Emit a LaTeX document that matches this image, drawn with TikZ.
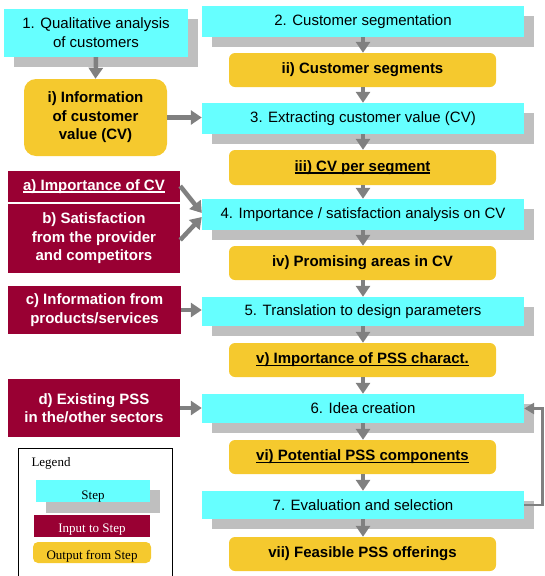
\documentclass[tikz,border=0pt]{standalone}
\usepackage{fontspec}
\setmainfont{Liberation Sans}
\newfontfamily\legfont{Liberation Serif}
\newcommand{\ulin}[1]{\setbox0\hbox{#1}\rlap{\copy0}\rule[-2.2pt]{\wd0}{1.2pt}}
\usetikzlibrary{arrows.meta,shadows}
\definecolor{stepcyan}{HTML}{66FFFF}
\definecolor{inred}{HTML}{990033}
\definecolor{outyel}{HTML}{F5C92E}
\definecolor{shadowgray}{HTML}{BFBFBF}
\definecolor{arrgray}{HTML}{808080}
\tikzset{
  stepbox/.style={fill=stepcyan, inner sep=0pt, align=center, text=black,
    font=\fontsize{15}{19}\selectfont,
    general shadow={fill=shadowgray, shadow xshift=10pt, shadow yshift=-10pt}},
  inbox/.style={fill=inred, text=white, inner sep=0pt, align=center,
    font=\fontsize{15}{18.5}\selectfont\bfseries},
  outbox/.style={fill=outyel, rounded corners=6pt, inner sep=0pt, align=center, text=black,
    font=\fontsize{15}{18.5}\selectfont\bfseries},
  flow/.style={draw=arrgray, line width=4.5pt, -{Triangle[length=11pt,width=14pt]}},
  feedback/.style={draw=arrgray, line width=2.5pt, -{Triangle[length=10pt,width=11pt]}},
  legtext/.style={font=\legfont\fontsize{13}{15}\selectfont},
}
\begin{document}
\begin{tikzpicture}[x=1pt,y=-1pt]
\useasboundingbox (0,0) rectangle (544,576);

% steps
\node[stepbox, minimum width=184pt, minimum height=48pt] (s1) at (96,33) {1. Qualitative analysis\\of customers};
\node[stepbox, minimum width=322pt, minimum height=31pt] (s2) at (363,21.5) {2. Customer segmentation};
\node[stepbox, minimum width=322pt, minimum height=31pt] (s3) at (363,118.5) {3. Extracting customer value (CV)};
\node[stepbox, minimum width=322pt, minimum height=31pt] (s4) at (363,214.5) {4. Importance / satisfaction analysis on CV};
\node[stepbox, minimum width=322pt, minimum height=29pt] (s5) at (363,311.5) {5. Translation to design parameters};
\node[stepbox, minimum width=322pt, minimum height=29pt] (s6) at (363,408.5) {6. Idea creation};
\node[stepbox, minimum width=322pt, minimum height=28pt] (s7) at (363,505) {7. Evaluation and selection};

% outputs
\node[outbox, rounded corners=12pt, minimum width=143pt, minimum height=77pt] (oi) at (95.5,117.5) {i) Information\\of customer\\value (CV)};
\node[outbox, minimum width=267pt, minimum height=34pt] (o2) at (362.5,70) {ii) Customer segments};
\node[outbox, minimum width=267pt, minimum height=35pt] (o3) at (362.5,167.5) {\ulin{iii) CV per segment}};
\node[outbox, minimum width=267pt, minimum height=34pt] (o4) at (362.5,263) {iv) Promising areas in CV};
\node[outbox, minimum width=267pt, minimum height=34pt] (o5) at (362.5,360) {\ulin{v) Importance of PSS charact.}};
\node[outbox, minimum width=267pt, minimum height=34pt] (o6) at (362.5,457) {\ulin{vi) Potential PSS components}};
\node[outbox, minimum width=267pt, minimum height=34pt] (o7) at (362.5,554) {vii) Feasible PSS offerings};

% inputs
\node[inbox, minimum width=172pt, minimum height=31pt] (ia) at (94,186.5) {\ulin{a) Importance of CV}};
\node[inbox, minimum width=172pt, minimum height=69pt] (ib) at (94,238.5) {b) Satisfaction\\from the provider\\and competitors};
\node[inbox, minimum width=173pt, minimum height=48pt] (ic) at (94.5,310) {c) Information from\\products/services};
\node[inbox, minimum width=172pt, minimum height=58pt] (id) at (94,408) {d) Existing PSS\\in the/other sectors};

% flow arrows
\draw[flow] (s1.south) -- (oi.north);
\draw[flow] (oi.east) -- (oi.east -| s3.west);
\draw[flow] (s2.south) -- (s2.south |- o2.north);
\draw[flow] (o2.south -| s2.south) -- (s3.north);
\draw[flow] (s3.south) -- (s3.south |- o3.north);
\draw[flow] (o3.south -| s3.south) -- (s4.north);
\draw[flow] (s4.south) -- (s4.south |- o4.north);
\draw[flow] (o4.south -| s4.south) -- (s5.north);
\draw[flow] (s5.south) -- (s5.south |- o5.north);
\draw[flow] (o5.south -| s5.south) -- (s6.north);
\draw[flow] (s6.south) -- (s6.south |- o6.north);
\draw[flow] (o6.south -| s6.south) -- (s7.north);
\draw[flow] (s7.south) -- (s7.south |- o7.north);

\draw[flow] ([yshift=0.5pt]ia.east) -- ([yshift=1.5pt]s4.west);
\draw[flow] ([yshift=-1.5pt]ib.east) -- ([yshift=-2.5pt]s4.west);
\draw[flow] (ic.east) -- (ic.east -| s5.west);
\draw[flow] (id.east) -- (id.east -| s6.west);

% feedback loop
\coordinate (fb) at (542.5,505);
\draw[feedback] (s7.east) -- (fb) |- (s6.east);

% legend
\node[draw=black, line width=0.8pt, anchor=north west, minimum width=154pt, minimum height=132pt, inner sep=0pt] (legframe) at (18,448) {};
\node[legtext, anchor=west] (legtitle) at (28,463) {Legend};
\node[stepbox, legtext, minimum width=114pt, minimum height=22pt,
  general shadow={fill=shadowgray, shadow xshift=10pt, shadow yshift=-11pt}] (lstep) at (93,491) {\raisebox{-8pt}[0pt][0pt]{Step}};
\node[inbox, legtext, text=white, minimum width=116pt, minimum height=22pt] (linput) at (92,526) {\raisebox{-6pt}[0pt][0pt]{Input to Step}};
\node[outbox, legtext, rounded corners=5pt, minimum width=118pt, minimum height=21pt] (lout) at (92,552.5) {\raisebox{-6.5pt}[0pt][0pt]{Output from Step}};
\end{tikzpicture}
\end{document}
